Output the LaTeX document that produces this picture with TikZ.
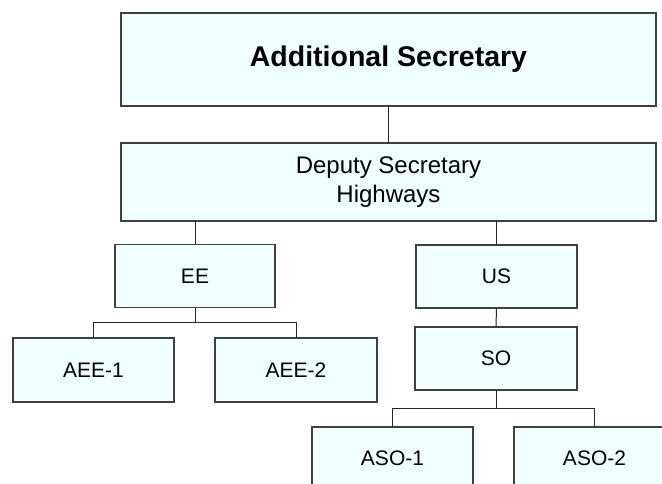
\documentclass[tikz,border=0pt]{standalone}
\usepackage{fontspec}
\setmainfont{Liberation Sans}
\definecolor{boxfill}{RGB}{240,255,255}
\definecolor{boxline}{RGB}{64,64,64}
\tikzset{
  post/.style={draw=boxline, line width=1.3pt, fill=boxfill, inner sep=0pt,
    outer sep=0pt, align=center, font=\fontsize{21}{24}\selectfont},
  link/.style={line width=1pt, draw=black!85}
}
\begin{document}
\begin{tikzpicture}[x=1pt,y=1pt]
\useasboundingbox (0,0) rectangle (662,-484);

% Top level
\node[post, minimum width=535pt, minimum height=93pt,
  font=\fontsize{28.5}{30}\bfseries] (addsec) at (388.5,-59.5) {Additional Secretary};
\node[post, minimum width=535pt, minimum height=78pt,
  font=\fontsize{24}{28.3}\selectfont] (depsec) at (388.5,-182) {Deputy Secretary\\Highways};

% Second level
\node[post, minimum width=160pt, minimum height=63pt] (ee) at (195,-276) {EE};
\node[post, minimum width=161pt, minimum height=63pt] (us) at (496.5,-276.5) {US};
\node[post, minimum width=162pt, minimum height=63pt] (so) at (496,-358.5) {SO};

% Bottom level
\node[post, minimum width=161pt, minimum height=64pt] (aee1) at (93.5,-370) {AEE-1};
\node[post, minimum width=162pt, minimum height=64pt] (aee2) at (296,-370) {AEE-2};
\node[post, minimum width=161pt, minimum height=63pt] (aso1) at (392.5,-458.5) {ASO-1};
\node[post, minimum width=161pt, minimum height=63pt] (aso2) at (594.5,-458.5) {ASO-2};

% Links
\draw[link] (addsec.south) -- (depsec.north);
\draw[link] (depsec.south -| ee.north) -- (ee.north);
\draw[link] (depsec.south -| us.north) -- (us.north);
\draw[link] (us.south) -- (so.north);

\draw[link] (ee.south) -- ++(0,-15) coordinate (eejoin);
\draw[link] (aee1.north) |- (eejoin) -| (aee2.north);

\draw[link] (so.south) -- ++(0,-18.5) coordinate (sojoin);
\draw[link] (aso1.north) |- (sojoin) -| (aso2.north);

\end{tikzpicture}
\end{document}
